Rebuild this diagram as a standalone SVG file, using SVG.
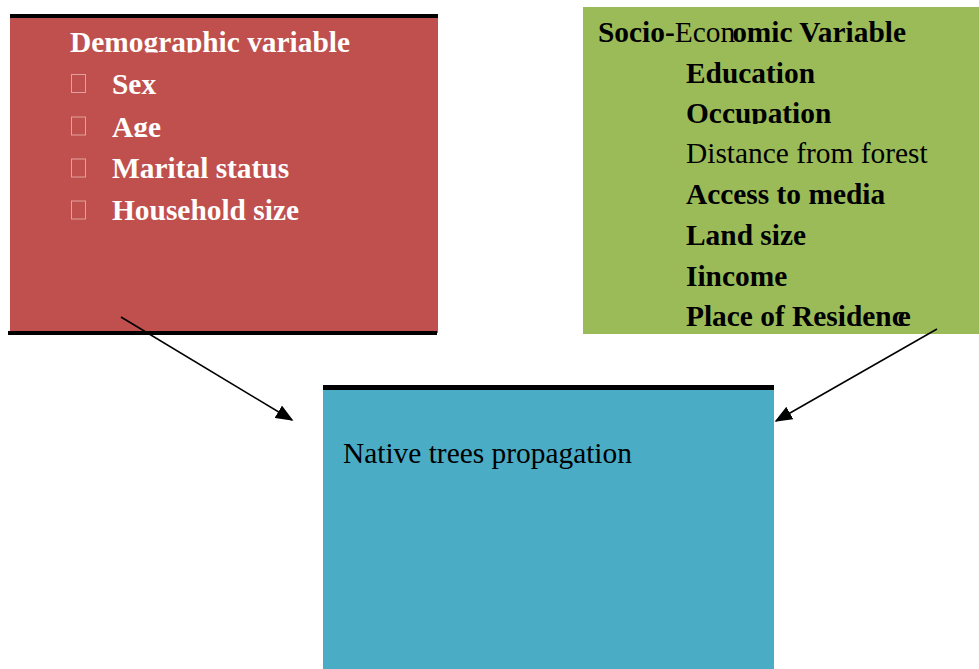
<svg xmlns="http://www.w3.org/2000/svg" width="979" height="669" viewBox="0 0 979 669">
<style>
.t{font-family:"Liberation Serif","Times New Roman",serif;font-size:29.4px}
.b{font-weight:bold}
.w{fill:#ffffff}
.k{fill:#000000}
.bar{fill:#000000}
.tofu{fill:none;stroke:#e3a09e;stroke-width:1}
.conn{stroke:#000;stroke-width:1.6;fill:none;marker-end:url(#ah)}
</style>
<defs>
<marker id="ah" markerWidth="11" markerHeight="9" refX="10" refY="4.5" orient="auto" markerUnits="strokeWidth">
<path d="M0,0 L11,4.5 L0,9 z" fill="#000"/>
</marker>
<clipPath id="c1"><rect x="0" y="0" width="979" height="52.5"/></clipPath>
<clipPath id="c2"><rect x="0" y="100" width="979" height="37"/></clipPath>
<clipPath id="c3"><rect x="0" y="90" width="979" height="34"/></clipPath>
</defs>
<rect width="979" height="669" fill="#ffffff"/>
<g id="demographic">
<rect x="10" y="16" width="428" height="317" fill="#C0504D"/>
<rect class="bar" x="10" y="14" width="428" height="4"/>
<rect class="bar" x="8" y="331" width="429" height="4"/>
<text class="t b w" x="70" y="52" clip-path="url(#c1)">Demographic variable</text>
<rect class="tofu" x="71.5" y="74.5" width="14" height="18"/>
<rect class="tofu" x="71.5" y="117" width="14" height="18"/>
<rect class="tofu" x="71.5" y="159" width="14" height="18"/>
<rect class="tofu" x="71.5" y="201" width="14" height="18"/>
<text class="t b w" x="112" y="94">Sex</text>
<text class="t b w" x="112" y="136.5" clip-path="url(#c2)">Age</text>
<text class="t b w" x="112" y="178">Marital status</text>
<text class="t b w" x="112" y="220">Household size</text>
</g>
<g id="socioeconomic">
<rect x="583" y="7" width="396" height="327" fill="#9BBB59"/>
<text class="t k" x="598" y="42"><tspan class="b">Socio-</tspan><tspan>Econ</tspan><tspan class="b" dx="-3">omic Variable</tspan></text>
<text class="t b k" x="686" y="82.5">Education</text>
<text class="t b k" x="686" y="123" clip-path="url(#c3)">Occupation</text>
<text class="t k" x="686" y="162.5">Distance from forest</text>
<text class="t b k" x="686" y="204">Access to media</text>
<text class="t b k" x="686" y="245">Land size</text>
<text class="t b k" x="686" y="285.5">Iincome</text>
<text class="t b k" x="686" y="325.5">Place of Residenc<tspan dx="-7">e</tspan></text>
</g>
<g id="native">
<rect x="323" y="388" width="451" height="281" fill="#4BACC6"/>
<rect class="bar" x="323" y="385" width="451" height="5"/>
<text class="t k" x="343" y="462.5">Native trees propagation</text>
</g>
<g id="connectors">
<line class="conn" x1="121" y1="317" x2="292" y2="420"/>
<line class="conn" x1="937" y1="329" x2="776" y2="421"/>
</g>
</svg>
